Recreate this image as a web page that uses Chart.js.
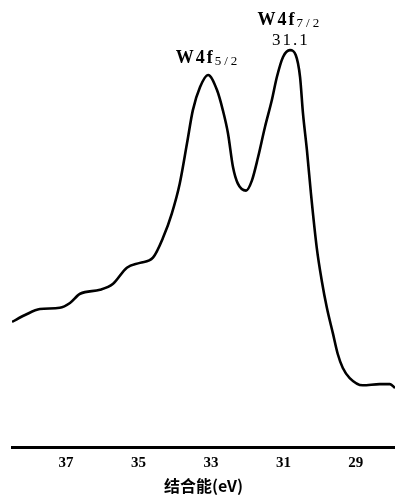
<!DOCTYPE html>
<html>
<head>
<meta charset="utf-8">
<script src="https://cdn.jsdelivr.net/npm/chart.js@4.4.0/dist/chart.umd.min.js"></script>
<style>
  html, body { margin: 0; padding: 0; background: #fff; }
  #wrap { width: 395px; height: 496px; position: relative; }
</style>
</head>
<body>
<div id="wrap"><canvas id="xps"></canvas></div>
<script>
// binding energy (eV) and relative intensity
const energy = [38.49, 38.13, 37.72, 37.17, 36.89, 36.61, 36.06, 35.70, 35.32, 34.96,
                34.60, 34.32, 34.08, 33.86, 33.66, 33.50, 33.30, 33.08, 32.83, 32.67,
                32.53, 32.39, 32.26, 32.03, 31.87, 31.70, 31.51, 31.32, 31.18, 31.01,
                30.82, 30.66, 30.54, 30.46, 30.35, 30.24, 30.08, 29.94, 29.80, 29.63,
                29.50, 29.36, 29.17, 28.81, 28.34, 28.06, 27.92];
const intensity = [31.3, 33.0, 34.5, 34.8, 36.0, 38.3, 39.3, 40.8, 44.8, 46.0,
                   47.3, 52.3, 58.3, 65.8, 75.8, 84.0, 89.8, 92.8, 89.0, 84.0,
                   78.3, 69.8, 65.8, 64.0, 66.5, 72.3, 79.8, 86.5, 92.3, 97.3,
                   99.0, 97.8, 92.3, 83.3, 74.0, 63.3, 49.8, 41.5, 34.8, 28.3,
                   23.3, 19.8, 17.3, 15.5, 15.8, 15.8, 14.8];
const tickValues = [37, 35, 33, 31, 29];
const peakLabels = [
    { main: 'W4f', sub: '5/2', value: null, at: [33.08, 92.8] },
    { main: 'W4f', sub: '7/2', value: '31.1', at: [30.82, 99.0] }
];

const points = energy.map((e, i) => ({ x: e, y: intensity[i] }));

const peakText = {
    id: 'peakText',
    afterDraw(chart) {
        const ctx = chart.ctx;
        const xs = chart.scales.x, ys = chart.scales.y;
        ctx.save();
        ctx.fillStyle = '#000';
        ctx.textBaseline = 'alphabetic';
        peakLabels.forEach(p => {
            const px = xs.getPixelForValue(p.at[0]);
            const py = ys.getPixelForValue(p.at[1]);
            ctx.letterSpacing = '2px';
            ctx.font = 'bold 18px "Liberation Serif"';
            const wMain = ctx.measureText(p.main).width;
            ctx.letterSpacing = '3px';
            ctx.font = '13px "Liberation Serif"';
            const wSub = ctx.measureText(p.sub).width;
            const total = wMain + wSub;
            let base = py - 12;
            if (p.value) {
                ctx.letterSpacing = '2px';
                ctx.font = '17px "Liberation Serif"';
                ctx.textAlign = 'center';
                ctx.fillText(p.value, px + 1, py - 5);
                base = py - 25;
            }
            const left = px - total / 2;
            ctx.textAlign = 'left';
            ctx.letterSpacing = '2px';
            ctx.font = 'bold 18px "Liberation Serif"';
            ctx.fillText(p.main, left, base);
            ctx.letterSpacing = '3px';
            ctx.font = '13px "Liberation Serif"';
            ctx.fillText(p.sub, left + wMain, base + 2);
        });
        ctx.restore();
    }
};

new Chart(document.getElementById('xps'), {
    type: 'line',
    data: {
        datasets: [{
            data: points,
            borderColor: '#000',
            borderWidth: 2.6,
            pointRadius: 0,
            cubicInterpolationMode: 'monotone',
            fill: false
        }]
    },
    options: {
        responsive: true,
        maintainAspectRatio: false,
        animation: false,
        layout: { padding: { left: 12, right: 0, top: 6, bottom: 2 } },
        plugins: {
            legend: { display: false },
            tooltip: { enabled: false }
        },
        scales: {
            x: {
                type: 'linear',
                reverse: true,
                min: 27.92,
                max: 38.49,
                afterBuildTicks: axis => { axis.ticks = tickValues.map(v => ({ value: v })); },
                grid: { display: false, drawTicks: false },
                border: { display: true, color: '#000', width: 3 },
                ticks: {
                    color: '#000',
                    padding: 7,
                    font: { family: 'Liberation Serif', size: 15, weight: 'bold', lineHeight: 1.1 }
                },
                title: {
                    display: true,
                    text: '结合能(eV)',
                    color: '#000',
                    padding: { top: 0, bottom: 0 },
                    font: { family: 'Noto Sans CJK SC', size: 16, weight: 'bold', lineHeight: 1.0 }
                }
            },
            y: {
                display: false,
                min: 0,
                max: 110
            }
        }
    },
    plugins: [peakText]
});
</script>
</body>
</html>
